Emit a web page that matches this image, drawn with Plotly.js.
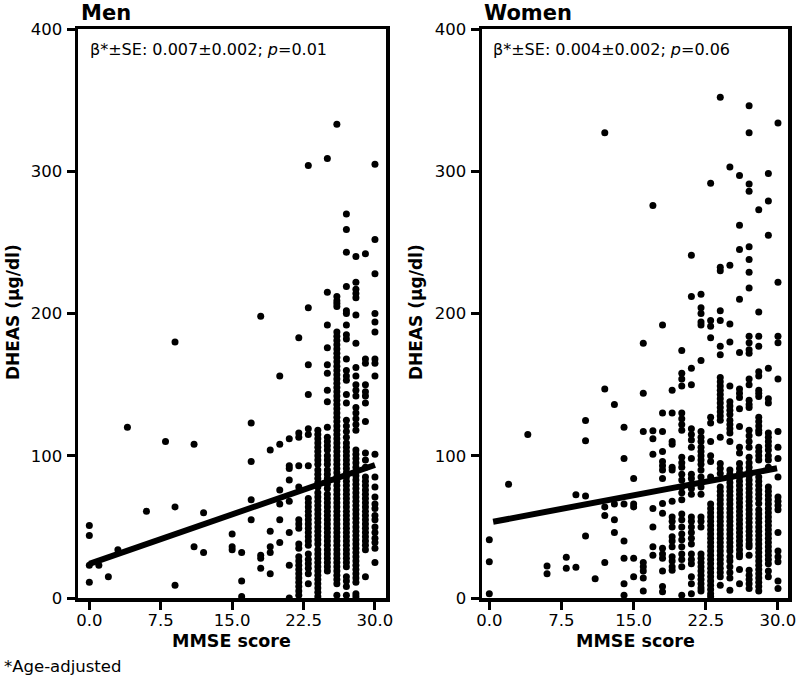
<!DOCTYPE html>
<html>
<head>
<meta charset="utf-8">
<script src="https://cdn.plot.ly/plotly-3.0.1.min.js"></script>
<style>
  html, body { margin: 0; padding: 0; background: #fff; }
  #chart { width: 800px; height: 679px; }
</style>
</head>
<body>
<div id="chart"></div>
<script>
// ---------- DATA ----------
const xTickVals = [0, 7.5, 15, 22.5, 30];
const xTickText = ["0.0", "7.5", "15.0", "22.5", "30.0"];
const yTickVals = [0, 100, 200, 300, 400];

// Men: MMSE score columns and DHEAS values in each column
const menScores = [0, 1, 2, 3, 4, 6, 8, 9, 11, 12, 15, 16, 17, 18, 19, 20, 21, 22, 23, 24, 25, 26, 27, 28, 29, 30];
const menDHEAS = [
  [51, 44, 23, 11],
  [23],
  [15],
  [34],
  [120],
  [61],
  [110],
  [180, 64, 9],
  [108, 36],
  [60, 32],
  [45, 36, 34],
  [32, 12, 1],
  [123, 96, 69, 55],
  [198, 30, 28, 21],
  [104, 47, 36, 32, 17],
  [156, 108, 76, 66, 55, 39],
  [112, 93, 91, 83, 68, 46, 23, 0],
  [183, 116, 113, 93, 78, 55, 52, 49, 38, 35, 29, 26, 23, 20, 17, 14, 11, 8, 5, 2],
  [304, 204, 164, 143, 119, 115, 93, 70, 67, 64, 61, 58, 55, 52, 49, 46, 43, 40, 37, 31, 27, 24, 21, 17, 10],
  [118, 115, 112, 109, 106, 103, 100, 97, 94, 90, 87, 84, 81, 78, 74, 71, 68, 65, 62, 59, 56, 53, 50, 47, 44, 41, 38, 34, 31, 28, 25, 22, 19, 16, 13, 10, 7, 4, 1],
  [309, 215, 192, 176, 164, 158, 146, 138, 120, 113, 110, 107, 104, 100, 97, 94, 90, 87, 84, 80, 77, 73, 70, 67, 64, 61, 58, 55, 52, 49, 46, 43, 40, 37, 34, 31, 28, 25, 22, 19],
  [333, 212, 209, 207, 205, 187, 184, 181, 178, 175, 172, 169, 166, 163, 160, 157, 154, 151, 148, 145, 142, 139, 136, 133, 130, 127, 124, 121, 118, 115, 112, 109, 106, 103, 100, 97, 94, 91, 88, 85, 82, 79, 76, 73, 70, 67, 64, 61, 58, 55, 52, 49, 46, 43, 40, 37, 34, 31, 28, 25, 22, 19, 16, 13, 10, 2],
  [270, 259, 243, 219, 202, 200, 192, 185, 182, 168, 160, 156, 153, 143, 137, 125, 121, 117, 113, 109, 106, 103, 100, 97, 94, 91, 88, 85, 82, 79, 76, 73, 70, 67, 64, 61, 58, 55, 52, 49, 46, 43, 40, 37, 34, 31, 28, 25, 22, 15, 12, 8, 2],
  [240, 222, 217, 214, 211, 199, 179, 162, 156, 150, 146, 142, 134, 130, 126, 122, 118, 104, 101, 98, 95, 92, 89, 86, 83, 80, 77, 74, 71, 68, 65, 62, 59, 56, 53, 50, 47, 44, 41, 38, 35, 32, 29, 26, 23, 20, 17, 14, 11, 3, 1],
  [242, 168, 165, 150, 145, 142, 137, 124, 102, 97, 92, 85, 82, 79, 76, 73, 70, 67, 64, 61, 58, 55, 52, 49, 46, 43, 40, 37, 34, 15],
  [305, 252, 228, 200, 194, 187, 168, 165, 156, 101, 85, 78, 71, 66, 63, 58, 55, 50, 46, 42, 39, 35, 25]
];
const menFitX = [0, 30];
const menFitY = [24, 93.5];

// Women: MMSE score columns and DHEAS values in each column
const womenScores = [0, 2, 4, 6, 8, 9, 10, 11, 12, 13, 14, 15, 16, 17, 18, 19, 20, 21, 22, 23, 24, 25, 26, 27, 28, 29, 30];
const womenDHEAS = [
  [41, 25.5, 3],
  [80],
  [115],
  [22.5, 17],
  [28.6, 21],
  [72.6, 21.7],
  [124.7, 110.6, 71.7, 43.6],
  [13.6],
  [327, 147, 64, 58, 25],
  [136, 66, 55, 46],
  [120, 98, 66, 40, 28, 10, 2],
  [84, 66, 64, 28, 15],
  [179, 144, 117, 25, 22, 19, 14, 5],
  [276, 117.6, 112, 101, 63, 50, 36, 30],
  [192, 130, 117, 103, 96, 93, 90, 84, 66.5, 59.5, 35, 31, 28, 19, 8, 4.4],
  [146, 130, 110, 108, 92, 90, 68, 57, 54, 50, 43, 40, 36, 29, 26, 22, 19.5],
  [174, 158, 154, 149, 130, 126, 122, 118, 99, 95, 92, 87, 83, 78, 74, 69, 59, 55, 50, 45, 41, 36, 31, 27, 22, 2],
  [241, 212, 161.5, 150, 119, 115, 111, 106, 98, 87, 84, 80, 77, 73, 57, 54, 50, 46, 42, 38, 31, 27, 24, 15, 10, 3],
  [213.5, 204, 200, 194, 192, 167, 117, 113, 110, 106, 103, 100, 97, 94, 90, 85, 81, 78, 73, 57, 54, 50, 31, 28, 25, 22, 19, 16, 13, 10, 7, 5],
  [291.5, 195, 191, 183, 127, 123, 110, 100, 96, 85, 66, 63, 60, 57, 54, 51, 48, 45, 42, 39, 36, 33, 30, 27, 24, 21, 18, 15, 12, 9, 6, 3, 1],
  [352, 232.5, 230, 202, 195, 177, 171, 155, 152, 149, 146, 143, 140, 137, 134, 131, 128, 125, 113, 94.5, 91, 87.5, 78, 75, 72, 69, 66, 63, 60, 57, 54, 51, 48, 45, 42, 39, 36, 33, 30, 27, 24, 21, 18, 15, 9],
  [303, 234, 192.6, 180, 149, 138, 135, 132, 129, 125, 122, 119, 116, 110, 90, 87, 84, 81, 78, 75, 72, 69, 66, 63, 60, 57, 54, 51, 48, 45, 42, 39, 36, 33, 29, 26, 22, 18, 14, 5.5],
  [297, 262, 245, 210, 172.5, 147, 144, 141, 133, 120.5, 106, 102, 94.5, 91, 88, 85, 82, 79, 76, 73, 70, 67, 64, 61, 58, 55, 52, 49, 46, 43, 40, 37, 34, 31, 29, 20, 10],
  [346, 327, 291, 286, 247, 238, 229, 218, 184, 179.5, 174.6, 172, 154, 150, 139, 136, 134, 118, 114, 110, 106, 99, 95, 92, 89, 86, 83, 80, 77, 74, 71, 68, 65, 62, 59, 56, 53, 50, 47, 44, 41, 38, 36, 30, 19.5, 16, 13, 10, 6.6],
  [273, 201, 184, 177, 159, 156, 146, 144, 141.6, 127, 124, 121, 118, 116, 106, 103, 100, 97, 85, 82, 79, 76, 73, 70, 66.5, 62, 59, 56, 53, 50, 47, 44, 41, 38, 35, 32, 29, 26, 23, 20, 17, 14, 11, 8, 5],
  [298.5, 279, 255, 161.5, 140, 137, 116, 113, 110, 107, 104, 100, 97, 92, 78, 75, 72, 69, 66, 63, 60, 57, 54, 51, 48, 45, 42, 39, 36, 33, 30, 27, 24, 19, 15],
  [334, 222, 184, 179.5, 154, 117, 106, 98, 85, 71, 68, 65, 62, 46, 33, 29, 25.5, 12, 6.7]
];
const womenFitX = [0.4, 29.9];
const womenFitY = [53.6, 91.2];

// ---------- BUILD TRACES ----------
function flatten(scores, values) {
  const xs = [], ys = [];
  scores.forEach((s, i) => values[i].forEach(v => { xs.push(s); ys.push(v); }));
  return { xs, ys };
}
const men = flatten(menScores, menDHEAS);
const women = flatten(womenScores, womenDHEAS);

const FONT = "DejaVu Sans, Liberation Sans, Arial, sans-serif";
const markerStyle = { color: "#000", size: 7, line: { width: 0 } };

const traces = [
  { x: men.xs, y: men.ys, type: "scatter", mode: "markers", marker: markerStyle, xaxis: "x", yaxis: "y", hoverinfo: "skip" },
  { x: menFitX, y: menFitY, type: "scatter", mode: "lines", line: { color: "#000", width: 6 }, xaxis: "x", yaxis: "y", hoverinfo: "skip" },
  { x: women.xs, y: women.ys, type: "scatter", mode: "markers", marker: markerStyle, xaxis: "x2", yaxis: "y2", hoverinfo: "skip" },
  { x: womenFitX, y: womenFitY, type: "scatter", mode: "lines", line: { color: "#000", width: 6 }, xaxis: "x2", yaxis: "y2", hoverinfo: "skip" }
];

const W = 800, H = 679;
const px = v => v / W;
const py = v => 1 - v / H;

const axisCommon = {
  showline: true, mirror: true, linewidth: 3.5, linecolor: "#000",
  ticks: "outside", ticklen: 8, tickwidth: 3, tickcolor: "#000",
  showgrid: false, zeroline: false,
  tickfont: { family: FONT, size: 16.5, color: "#000" },
  fixedrange: true
};

const layout = {
  width: W, height: H,
  margin: { l: 0, r: 0, t: 0, b: 0, pad: 0 },
  paper_bgcolor: "#fff", plot_bgcolor: "#fff",
  showlegend: false,
  font: { family: FONT, color: "#000" },
  xaxis: Object.assign({}, axisCommon, {
    domain: [px(78), px(386)], range: [-1.19, 31.16], anchor: "y",
    tickvals: xTickVals, ticktext: xTickText, ticklabelstandoff: -3
  }),
  yaxis: Object.assign({}, axisCommon, {
    domain: [py(598), py(29)], range: [0, 400], anchor: "x", tickvals: yTickVals, ticklabelstandoff: 1
  }),
  xaxis2: Object.assign({}, axisCommon, {
    domain: [px(482), px(788)], range: [-0.76, 31.04], anchor: "y2",
    tickvals: xTickVals, ticktext: xTickText, ticklabelstandoff: -3
  }),
  yaxis2: Object.assign({}, axisCommon, {
    domain: [py(598), py(29)], range: [0, 400], anchor: "x2", tickvals: yTickVals, ticklabelstandoff: 1
  }),
  annotations: [
    { text: "<b>Men</b>", xref: "paper", yref: "paper", x: px(79), y: py(13), xanchor: "left", yanchor: "middle", showarrow: false, font: { family: FONT, size: 21, color: "#000" } },
    { text: "<b>Women</b>", xref: "paper", yref: "paper", x: px(482), y: py(13), xanchor: "left", yanchor: "middle", showarrow: false, font: { family: FONT, size: 21, color: "#000" } },
    { text: "β*±SE: 0.007±0.002; <i>p</i>=0.01", xref: "paper", yref: "paper", x: px(88), y: py(50), xanchor: "left", yanchor: "middle", showarrow: false, font: { family: FONT, size: 16, color: "#000" } },
    { text: "β*±SE: 0.004±0.002; <i>p</i>=0.06", xref: "paper", yref: "paper", x: px(491), y: py(50), xanchor: "left", yanchor: "middle", showarrow: false, font: { family: FONT, size: 16, color: "#000" } },
    { text: "<b>DHEAS (μg/dl)</b>", xref: "paper", yref: "paper", x: px(13), y: py(312), xanchor: "center", yanchor: "middle", textangle: -90, showarrow: false, font: { family: FONT, size: 17, color: "#000" } },
    { text: "<b>DHEAS (μg/dl)</b>", xref: "paper", yref: "paper", x: px(416), y: py(312), xanchor: "center", yanchor: "middle", textangle: -90, showarrow: false, font: { family: FONT, size: 17, color: "#000" } },
    { text: "<b>MMSE score</b>", xref: "paper", yref: "paper", x: px(232), y: py(641), xanchor: "center", yanchor: "middle", showarrow: false, font: { family: FONT, size: 17.5, color: "#000" } },
    { text: "<b>MMSE score</b>", xref: "paper", yref: "paper", x: px(635), y: py(641), xanchor: "center", yanchor: "middle", showarrow: false, font: { family: FONT, size: 17.5, color: "#000" } },
    { text: "*Age-adjusted", xref: "paper", yref: "paper", x: px(2), y: py(666), xanchor: "left", yanchor: "middle", showarrow: false, font: { family: FONT, size: 16.5, color: "#000" } }
  ]
};

Plotly.newPlot("chart", traces, layout, { displayModeBar: false, staticPlot: true });
</script>
</body>
</html>
